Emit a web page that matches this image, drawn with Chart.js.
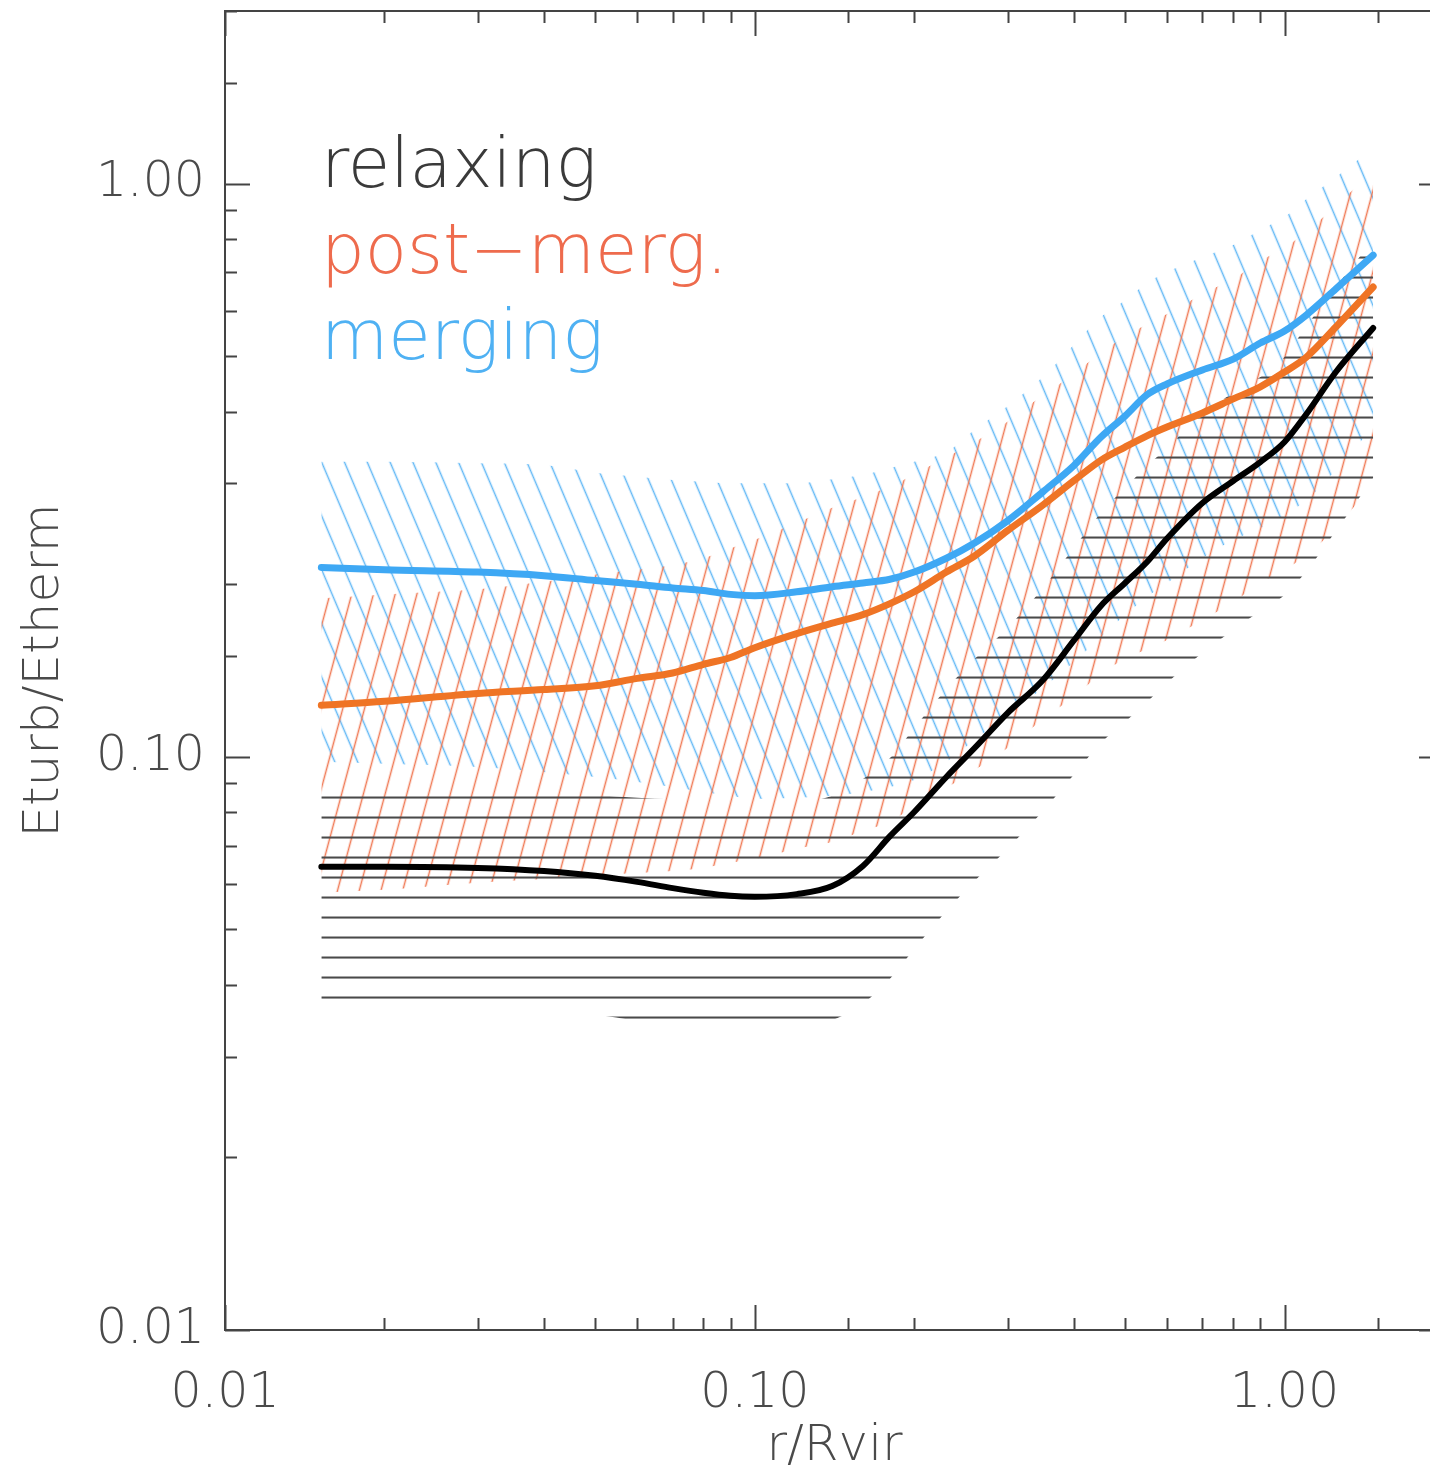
<!DOCTYPE html>
<html>
<head>
<meta charset="utf-8">
<script src="https://cdn.jsdelivr.net/npm/chart.js@4.4.1/dist/chart.umd.min.js"></script>
<style>
  html, body { margin: 0; padding: 0; background: #fff; overflow: hidden; }
</style>
</head>
<body>
<canvas id="chart" width="1444" height="1482"></canvas>
<script>
// r/Rvir sample points
const radius = [0.0152, 0.02, 0.03, 0.04, 0.05, 0.06, 0.07, 0.08, 0.09, 0.10,
  0.12, 0.14, 0.16, 0.18, 0.20, 0.23, 0.26, 0.30, 0.35, 0.40,
  0.45, 0.50, 0.55, 0.60, 0.70, 0.80, 0.90, 1.00, 1.10, 1.25, 1.47];

// median Eturb/Etherm profiles
const merging = [0.214, 0.212, 0.210, 0.207, 0.203, 0.200, 0.197, 0.195, 0.192, 0.191,
  0.194, 0.198, 0.201, 0.204, 0.210, 0.222, 0.236, 0.258, 0.290, 0.322,
  0.361, 0.393, 0.428, 0.447, 0.473, 0.494, 0.527, 0.553, 0.590, 0.655, 0.750];
const postMerg = [0.123, 0.125, 0.129, 0.131, 0.133, 0.137, 0.140, 0.145, 0.149, 0.155,
  0.164, 0.171, 0.177, 0.185, 0.194, 0.210, 0.224, 0.248, 0.275, 0.303,
  0.329, 0.347, 0.363, 0.376, 0.398, 0.421, 0.442, 0.469, 0.498, 0.562, 0.660];
const relaxing = [0.0643, 0.0643, 0.0640, 0.0632, 0.0620, 0.0605, 0.0590, 0.0579, 0.0572, 0.0570,
  0.0576, 0.0595, 0.0645, 0.0727, 0.0801, 0.0922, 0.1036, 0.1192, 0.1361, 0.1594,
  0.1833, 0.2010, 0.2187, 0.2403, 0.2772, 0.3028, 0.3267, 0.3541, 0.3963, 0.4690, 0.5598];

// scatter bands (upper / lower)
const mergingHi = [0.327, 0.327, 0.325, 0.323, 0.313, 0.308, 0.304, 0.302, 0.300, 0.300,
  0.300, 0.305, 0.310, 0.319, 0.327, 0.340, 0.372, 0.409, 0.460, 0.523,
  0.585, 0.626, 0.671, 0.701, 0.744, 0.781, 0.830, 0.874, 0.940, 1.026, 1.153];
const mergingLo = [0.0980, 0.0972, 0.0960, 0.0941, 0.0922, 0.0904, 0.0886, 0.0868, 0.0855, 0.0844,
  0.0848, 0.0855, 0.0868, 0.0886, 0.0911, 0.0980, 0.1070, 0.1183, 0.1318, 0.1463,
  0.1618, 0.1767, 0.1900, 0.2010, 0.2222, 0.2388, 0.2506, 0.2641, 0.2805, 0.3165, 0.3761];
const postMergHi = [0.189, 0.192, 0.196, 0.202, 0.208, 0.212, 0.216, 0.222, 0.231, 0.239,
  0.256, 0.272, 0.284, 0.296, 0.311, 0.333, 0.354, 0.384, 0.428, 0.465,
  0.508, 0.540, 0.569, 0.592, 0.642, 0.682, 0.733, 0.772, 0.826, 0.914, 1.056];
const postMergLo = [0.0579, 0.0586, 0.0603, 0.0612, 0.0622, 0.0627, 0.0632, 0.0640, 0.0653, 0.0663,
  0.0691, 0.0710, 0.0742, 0.0770, 0.0821, 0.0882, 0.0948, 0.1036, 0.1164, 0.1272,
  0.1395, 0.1481, 0.1542, 0.1599, 0.1732, 0.1862, 0.2010, 0.2118, 0.2249, 0.2506, 0.3003];
const relaxingHi = [0.0875, 0.0875, 0.0875, 0.0868, 0.0858, 0.0848, 0.0841, 0.0827, 0.0821, 0.0821,
  0.0831, 0.0855, 0.0915, 0.0995, 0.1123, 0.1313, 0.1481, 0.1678, 0.1970, 0.2313,
  0.2662, 0.2943, 0.3216, 0.3457, 0.3963, 0.4312, 0.4598, 0.4983, 0.5643, 0.6599, 0.7968];
const relaxingLo = [0.0365, 0.0365, 0.0363, 0.0360, 0.0355, 0.0346, 0.0341, 0.0338, 0.0336, 0.0336,
  0.0339, 0.0347, 0.0371, 0.0410, 0.0462, 0.0538, 0.0607, 0.0691, 0.0804, 0.0930,
  0.1057, 0.1150, 0.1246, 0.1345, 0.1518, 0.1664, 0.1796, 0.1915, 0.2109, 0.2476, 0.3063];

const legendNames = ['relaxing', 'post\u2212merg.', 'merging'];
const legendColors = ['#3a3a3a', '#ee6b4d', '#4fb1f3'];

const FONT = '"DejaVu Sans", sans-serif';
const TXT = '#4a4a4a';

function pts(ys) {
  return radius.map((r, i) => ({ x: r, y: ys[i] }));
}

// line hatching as a rotated pattern
function hatch(color, angle, spacing, width, shift) {
  const tile = document.createElement('canvas');
  tile.width = 64;
  tile.height = spacing;
  const c = tile.getContext('2d');
  c.strokeStyle = color;
  c.lineWidth = width;
  c.beginPath();
  c.moveTo(0, spacing / 2);
  c.lineTo(64, spacing / 2);
  c.stroke();
  const p = c.createPattern(tile, 'repeat');
  p.setTransform(new DOMMatrix().translate(0, shift || 0).rotate(angle));
  return p;
}

function isDecade(v) {
  const l = Math.log10(v);
  return Math.abs(l - Math.round(l)) < 1e-6;
}

function edge(data) {
  return {
    data: pts(data), borderWidth: 0, borderColor: 'rgba(0,0,0,0)',
    pointRadius: 0, cubicInterpolationMode: 'monotone', fill: false
  };
}
function band(data, pattern) {
  return Object.assign(edge(data), { fill: '-1', backgroundColor: pattern });
}
function line(data, color, w) {
  return {
    data: pts(data), borderColor: color, borderWidth: w, pointRadius: 0,
    cubicInterpolationMode: 'monotone', fill: false, borderCapStyle: 'round'
  };
}

function noPad(s) {
  s.paddingTop = 0; s.paddingBottom = 0; s.paddingLeft = 0; s.paddingRight = 0;
}

// box with inward ticks on all four sides
const frame = {
  id: 'frame',
  afterDraw(chart) {
    const { ctx, chartArea: a, scales: { x, y } } = chart;
    ctx.save();
    ctx.strokeStyle = '#444';
    ctx.lineWidth = 2;
    ctx.strokeRect(a.left, a.top, a.right - a.left, a.bottom - a.top);
    ctx.beginPath();
    x.ticks.forEach(t => {
      const px = Math.round(x.getPixelForValue(t.value)) + 0.5;
      const len = isDecade(t.value) ? 25 : 12;
      ctx.moveTo(px, a.bottom); ctx.lineTo(px, a.bottom - len);
      ctx.moveTo(px, a.top); ctx.lineTo(px, a.top + len);
    });
    y.ticks.forEach(t => {
      const py = Math.round(y.getPixelForValue(t.value)) + 0.5;
      const len = isDecade(t.value) ? 25 : 12;
      ctx.moveTo(a.left, py); ctx.lineTo(a.left + len, py);
      ctx.moveTo(a.right, py); ctx.lineTo(a.right - len, py);
    });
    ctx.stroke();

    // legend text
    ctx.font = '200 69px ' + FONT;
    ctx.textBaseline = 'alphabetic';
    legendNames.forEach((name, i) => {
      ctx.fillStyle = legendColors[i];
      ctx.fillText(name, a.left + 96, a.top + 176 + i * 86);
    });
    ctx.restore();
  }
};

new Chart(document.getElementById('chart'), {
  type: 'line',
  data: {
    datasets: [
      line(relaxing, '#000000', 6),
      line(postMerg, '#ef7425', 7),
      line(merging, '#3ea8f4', 7),
      edge(relaxingHi),
      band(relaxingLo, hatch('#4a4a4a', 0, 20, 2, 7.5)),
      edge(postMergHi),
      band(postMergLo, hatch('#f07a55', -75, 21, 1.6)),
      edge(mergingHi),
      band(mergingLo, hatch('#63b9f5', 67, 21, 1.6))
    ]
  },
  options: {
    responsive: false,
    animation: false,
    layout: { padding: { top: 11, right: 0, left: 0, bottom: 0 } },
    plugins: { legend: { display: false }, tooltip: { enabled: false } },
    scales: {
      x: {
        type: 'logarithmic', min: 0.01, max: 2,
        grid: { display: false, drawTicks: false },
        border: { display: false },
        ticks: {
          autoSkip: false, maxRotation: 0, padding: 35, color: TXT,
          font: { family: FONT, size: 49, weight: '200' },
          callback: v => isDecade(v) ? v.toFixed(2) : ''
        },
        title: {
          display: true, text: 'r/Rvir', color: TXT,
          font: { family: FONT, size: 50, weight: '200' },
          padding: { top: 0, bottom: 5 }
        },
        afterFit(s) { s.height = 152; noPad(s); }
      },
      y: {
        type: 'logarithmic', min: 0.01, max: 2,
        grid: { display: false, drawTicks: false },
        border: { display: false },
        ticks: {
          autoSkip: false, padding: 20, color: TXT,
          font: { family: FONT, size: 49, weight: '200' },
          callback: v => isDecade(v) ? v.toFixed(2) : ''
        },
        title: {
          display: true, text: 'Eturb/Etherm', color: TXT,
          font: { family: FONT, size: 50, weight: '200' },
          padding: { top: 15, bottom: 0 }
        },
        afterFit(s) { s.width = 225; noPad(s); }
      }
    }
  },
  plugins: [frame]
});
</script>
</body>
</html>
